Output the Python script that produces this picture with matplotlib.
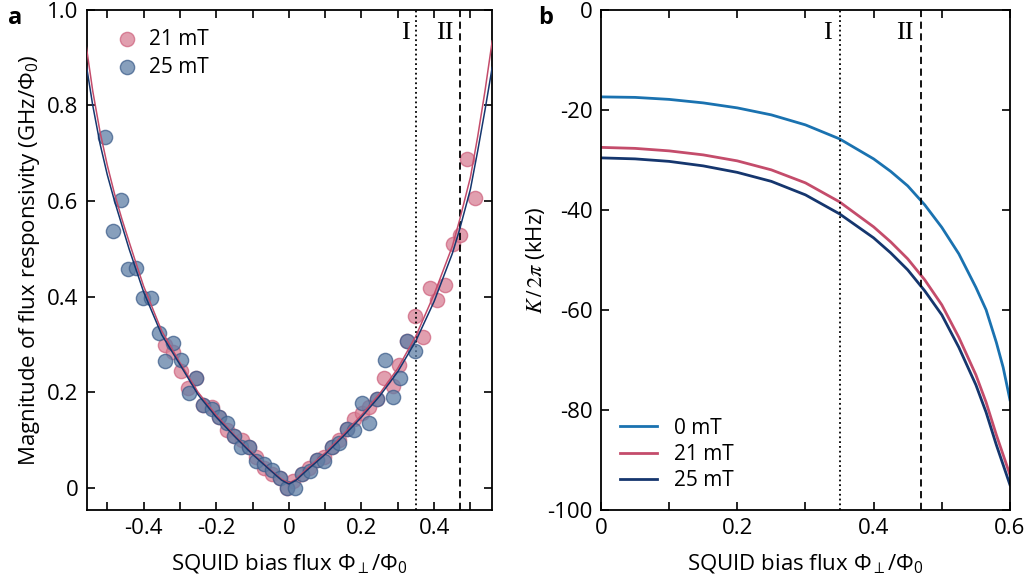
import numpy as np
import matplotlib
matplotlib.use("Agg")
import matplotlib.pyplot as plt
from matplotlib.ticker import MultipleLocator, FuncFormatter

plt.rcParams['font.family'] = ['Open Sans', 'DejaVu Sans']
plt.rcParams['mathtext.fontset'] = 'custom'
plt.rcParams['mathtext.rm'] = 'Open Sans'
plt.rcParams['mathtext.it'] = 'Open Sans:italic'
plt.rcParams['axes.unicode_minus'] = False

# ---- panel a: measured responsivity ----
x21 = [-0.342, -0.320, -0.298, -0.278, -0.256, -0.237, -0.212, -0.193, -0.171, -0.152,
       -0.129, -0.110, -0.091, -0.069, -0.047, -0.025, -0.006, 0.011, 0.036, 0.055,
       0.077, 0.096, 0.118, 0.138, 0.160, 0.179, 0.201, 0.220, 0.242, 0.262,
       0.287, 0.303, 0.325, 0.347, 0.369, 0.388, 0.408, 0.430, 0.452, 0.471,
       0.512, 0.490]
y21 = [0.299, 0.285, 0.245, 0.209, 0.230, 0.174, 0.170, 0.149, 0.121, 0.109,
       0.101, 0.086, 0.065, 0.042, 0.029, 0.021, 0.000, 0.015, 0.029, 0.042,
       0.059, 0.065, 0.086, 0.101, 0.124, 0.145, 0.157, 0.170, 0.186, 0.230,
       0.214, 0.258, 0.308, 0.360, 0.316, 0.419, 0.394, 0.425, 0.511, 0.528,
       0.607, 0.687]

x25 = [-0.507, -0.463, -0.485, -0.444, -0.421, -0.402, -0.380, -0.358, -0.320, -0.342,
       -0.298, -0.256, -0.275, -0.237, -0.212, -0.193, -0.171, -0.152, -0.132, -0.110,
       -0.091, -0.069, -0.047, -0.025, -0.006, 0.017, 0.036, 0.058, 0.077, 0.096,
       0.118, 0.138, 0.160, 0.179, 0.201, 0.220, 0.242, 0.264, 0.287, 0.306,
       0.325, 0.347]
y25 = [0.735, 0.603, 0.538, 0.457, 0.461, 0.398, 0.398, 0.323, 0.304, 0.266,
       0.268, 0.230, 0.199, 0.174, 0.165, 0.149, 0.136, 0.109, 0.086, 0.086,
       0.057, 0.050, 0.038, 0.021, 0.000, 0.000, 0.029, 0.036, 0.059, 0.057,
       0.086, 0.094, 0.124, 0.121, 0.178, 0.136, 0.186, 0.268, 0.191, 0.230,
       0.308, 0.287]

# fit curves
fit_x = [-0.56, -0.54, -0.52, -0.50, -0.48, -0.46, -0.44, -0.42, -0.40, -0.35,
         -0.30, -0.25, -0.20, -0.15, -0.10, -0.05, -0.02, 0.0, 0.02, 0.05,
         0.10, 0.15, 0.20, 0.25, 0.30, 0.35, 0.40, 0.45, 0.47, 0.50,
         0.52, 0.54, 0.56]
fit21 = [0.935, 0.830, 0.745, 0.675, 0.615, 0.563, 0.515, 0.468, 0.422, 0.328,
         0.262, 0.200, 0.152, 0.110, 0.072, 0.037, 0.018, 0.010, 0.018, 0.040,
         0.073, 0.112, 0.152, 0.197, 0.250, 0.318, 0.405, 0.505, 0.560, 0.650,
         0.735, 0.830, 0.935]
fit25 = [0.895, 0.800, 0.720, 0.655, 0.600, 0.550, 0.500, 0.455, 0.410, 0.320,
         0.258, 0.195, 0.148, 0.108, 0.070, 0.036, 0.016, 0.008, 0.016, 0.037,
         0.070, 0.108, 0.148, 0.192, 0.243, 0.308, 0.390, 0.490, 0.540, 0.625,
         0.705, 0.790, 0.880]

# ---- panel b: Kerr coefficient ----
kx = [0.0, 0.05, 0.10, 0.15, 0.20, 0.25, 0.30, 0.35, 0.40, 0.425, 0.45, 0.475,
      0.50, 0.525, 0.55, 0.565, 0.58, 0.59, 0.60]
k0 = [-17.4, -17.5, -17.9, -18.6, -19.6, -21.0, -23.0, -25.8, -29.8, -32.3, -35.2, -39.0,
      -43.5, -48.8, -55.5, -60.0, -66.5, -71.5, -78.0]
k21 = [-27.5, -27.7, -28.2, -29.0, -30.2, -32.0, -34.6, -38.4, -43.4, -46.4, -49.8, -54.0,
       -59.0, -65.5, -73.0, -78.5, -85.0, -89.0, -93.0]
k25 = [-29.6, -29.8, -30.3, -31.2, -32.5, -34.3, -37.0, -40.8, -45.6, -48.6, -52.0, -56.2,
       -61.0, -67.5, -75.0, -80.5, -87.0, -91.0, -95.0]

region_I = 0.35
region_II = 0.47

pink = '#c44c6b'
navy = '#15366e'
blue0 = '#1a72b0'

fs = 16

def fmt(v, pos):
    if abs(v) < 1e-9:
        return '0'
    return '%g' % v

def fmt1(v, pos):
    if abs(v) < 1e-9:
        return '0'
    return '%.1f' % v

def style(ax):
    ax.tick_params(which='both', direction='in', top=True, right=True,
                   length=6, width=1.2, labelsize=fs, pad=6)
    for s in ax.spines.values():
        s.set_linewidth(1.3)

fig = plt.figure(figsize=(10.29, 5.82), dpi=100)
ax1 = fig.add_axes([0.0845, 0.124, 0.3935, 0.859])
ax2 = fig.add_axes([0.584, 0.124, 0.3975, 0.859])

ax1.scatter(x21, y21, s=105, color='#d77f94', alpha=0.75, edgecolors='#cf6580',
            linewidths=1.0, label='21 mT', zorder=2)
ax1.scatter(x25, y25, s=105, color='#5f7fa6', alpha=0.75, edgecolors='#3f5f8c',
            linewidths=1.0, label='25 mT', zorder=3)
ax1.plot(fit_x, fit21, color=pink, lw=1.1, zorder=4)
ax1.plot(fit_x, fit25, color=navy, lw=1.1, zorder=4)
ax1.axvline(region_I, color='k', ls=':', lw=1.3)
ax1.axvline(region_II, color='k', ls=(0, (4, 2.5)), lw=1.3)
ax1.text(region_I - 0.018, 0.975, 'I', ha='right', va='top', fontsize=19,
         family='Liberation Serif')
ax1.text(region_II - 0.016, 0.975, 'II', ha='right', va='top', fontsize=19,
         family='Liberation Serif')
ax1.set_xlim(-0.556, 0.559)
ax1.set_ylim(-0.046, 1.0)
ax1.xaxis.set_major_locator(MultipleLocator(0.2))
ax1.xaxis.set_minor_locator(MultipleLocator(0.1))
ax1.yaxis.set_major_locator(MultipleLocator(0.2))
ax1.xaxis.set_major_formatter(FuncFormatter(fmt))
ax1.yaxis.set_major_formatter(FuncFormatter(fmt1))
style(ax1)
ax1.set_xlabel(r'SQUID bias flux $\Phi_{\perp}/\Phi_0$', fontsize=fs, labelpad=10)
ax1.set_ylabel(r'Magnitude of flux responsivity (GHz/$\Phi_0$)', fontsize=fs)
ax1.legend(loc='upper left', frameon=False, fontsize=15, handletextpad=0.1,
           borderaxespad=0.6, labelspacing=0.35, borderpad=0.3)

ax2.plot(kx, k0, color=blue0, lw=2, label='0 mT')
ax2.plot(kx, k21, color=pink, lw=2, label='21 mT')
ax2.plot(kx, k25, color=navy, lw=2, label='25 mT')
ax2.axvline(region_I, color='k', ls=':', lw=1.3)
ax2.axvline(region_II, color='k', ls=(0, (4, 2.5)), lw=1.3)
ax2.text(region_I - 0.012, -2.5, 'I', ha='right', va='top', fontsize=19,
         family='Liberation Serif')
ax2.text(region_II - 0.012, -2.5, 'II', ha='right', va='top', fontsize=19,
         family='Liberation Serif')
ax2.set_xlim(0, 0.6)
ax2.set_ylim(-100, 0)
ax2.xaxis.set_major_locator(MultipleLocator(0.2))
ax2.xaxis.set_minor_locator(MultipleLocator(0.1))
ax2.yaxis.set_major_locator(MultipleLocator(20))
ax2.xaxis.set_major_formatter(FuncFormatter(fmt))
ax2.yaxis.set_major_formatter(FuncFormatter(fmt))
style(ax2)
ax2.set_xlabel(r'SQUID bias flux $\Phi_{\perp}/\Phi_0$', fontsize=fs, labelpad=10)
ax2.set_ylabel(r'$K\,/\,2\pi$ (kHz)', fontsize=fs, math_fontfamily='stix',
               labelpad=0)
ax2.legend(loc='lower left', frameon=False, fontsize=15, handlelength=1.8,
           borderaxespad=0.5, labelspacing=0.25)

fig.text(0.008, 0.99, 'a', fontsize=17, fontweight='bold', va='top')
fig.text(0.523, 0.99, 'b', fontsize=17, fontweight='bold', va='top')

fig.savefig('out.png', dpi=100)
